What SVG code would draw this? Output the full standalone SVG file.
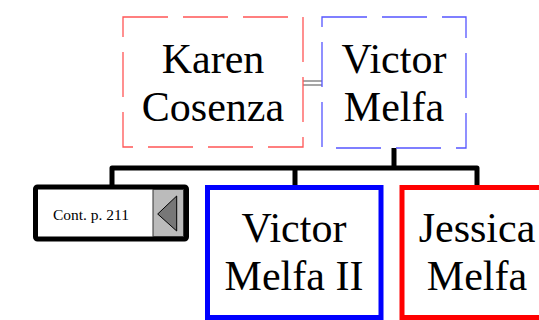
<svg xmlns="http://www.w3.org/2000/svg" width="539" height="320" viewBox="0 0 539 320">
<style>
.name{font-family:"Liberation Serif","Times New Roman",serif;font-size:42px;fill:#000;text-anchor:middle}
.small{font-family:"Liberation Serif","Times New Roman",serif;font-size:15.5px;fill:#000;text-anchor:middle}
.dash{fill:#fff;stroke-width:1.3;stroke-dasharray:45 15}
.solid{fill:#fff;stroke-width:5}
.conn{fill:none;stroke:#000;stroke-width:5;stroke-linejoin:round}
.marr{stroke:#888;stroke-width:1.5}
</style>
<rect width="539" height="320" fill="#fff"/>
<g id="connectors">
<line class="marr" x1="303" y1="81" x2="322" y2="81"/>
<line class="marr" x1="303" y1="85" x2="322" y2="85"/>
<path class="conn" d="M394,148 V168 M112,187 V168 H477 V187 M295,168 V187"/>
</g>
<g id="karen">
<rect class="dash" x="123" y="17" width="180" height="130" stroke="#f55"/>
<text class="name" x="213" y="73">Karen</text>
<text class="name" x="213" y="121">Cosenza</text>
</g>
<g id="victor">
<rect class="dash" x="322" y="17" width="144" height="131" stroke="#55f"/>
<text class="name" x="394" y="73">Victor</text>
<text class="name" x="394" y="121">Melfa</text>
</g>
<g id="cont">
<rect class="solid" x="35.5" y="187" width="151" height="52" rx="2" stroke="#000"/>
<rect x="153" y="189.5" width="30.5" height="47" fill="#bbb" stroke="#333" stroke-width="1"/>
<polygon points="157.7,214 176.7,196 176.7,231" fill="#777" stroke="#000" stroke-width="1"/>
<text class="small" x="91" y="220">Cont. p. 211</text>
</g>
<g id="victor2">
<rect class="solid" x="207.5" y="187.5" width="173.5" height="130" stroke="#00f"/>
<text class="name" x="294" y="242">Victor</text>
<text class="name" x="294" y="290">Melfa II</text>
</g>
<g id="jessica">
<rect class="solid" x="402" y="187.5" width="149.5" height="130" stroke="#f00"/>
<text class="name" x="477" y="242">Jessica</text>
<text class="name" x="477" y="290">Melfa</text>
</g>
</svg>
